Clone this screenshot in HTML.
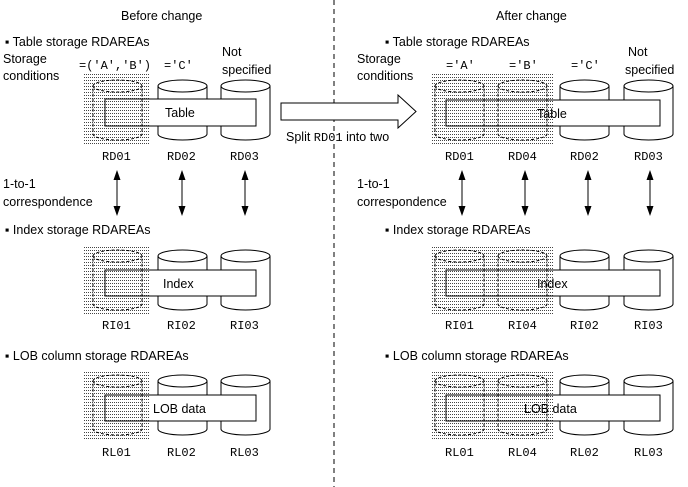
<!DOCTYPE html>
<html><head><meta charset="utf-8"><style>
body{margin:0;background:#fff}
svg{display:block}
text{font-family:"Liberation Sans",sans-serif;font-size:12.5px;fill:#000}
.m{font-family:"Liberation Mono",monospace;font-size:12px}
</style></head><body>
<svg width="688" height="487" viewBox="0 0 688 487" xmlns="http://www.w3.org/2000/svg">
<defs>
<pattern id="dots" width="2" height="3" patternUnits="userSpaceOnUse"><rect x="0" y="0" width="1" height="1" fill="#444" shape-rendering="crispEdges"/></pattern>
<g id="cyl"><path d="M0,6 A24.5,6 0 0 1 49,6 V54 A24.5,6 0 0 1 0,54 Z M0,6 A24.5,6 0 0 0 49,6" fill="#fff" stroke="#000"/></g>
<g id="dcyl"><path d="M0,6 A24.5,6 0 0 1 49,6 V54 A24.5,6 0 0 1 0,54 Z M0,6 A24.5,6 0 0 0 49,6" fill="none" stroke="#000" stroke-dasharray="3,2"/></g>
<g id="arr"><line x1="0" y1="4" x2="0" y2="42" stroke="#000"/><path d="M-3.5,10 L0,0 L3.5,10 Z M-3.5,36 L0,46 L3.5,36 Z" fill="#000"/></g>
</defs>
<line x1="334" y1="0" x2="334" y2="487" stroke="#000" stroke-dasharray="5,4"/>
<text x="121" y="20">Before change</text>
<text x="496" y="20">After change</text>

<text x="5" y="46">▪ Table storage RDAREAs</text>
<text x="3" y="63">Storage</text><text x="3" y="80">conditions</text>
<text class="m" x="79" y="69">=('A','B')</text>
<text class="m" x="164" y="69">='C'</text>
<text x="222" y="56">Not</text><text x="222" y="74">specified</text>
<g transform="translate(0,80)">
<use href="#cyl" x="158"/><use href="#cyl" x="221"/>
<rect x="105" y="19" width="151" height="27" fill="#fff"/>
<rect x="84" y="-8" width="66" height="73" fill="url(#dots)"/>
<use href="#dcyl" x="93"/>
<rect x="105" y="19" width="151" height="27" fill="none" stroke="#000"/>
<text x="165" y="37">Table</text>
</g>
<text class="m" x="102" y="160">RD01</text><text class="m" x="167" y="160">RD02</text><text class="m" x="230" y="160">RD03</text>

<path d="M281,103 H398 V95 L416,111.5 L398,128 V120 H281 Z" fill="#fff" stroke="#000"/>
<text x="286" y="141">Split <tspan class="m">RD01</tspan> into two</text>

<text x="3" y="188">1-to-1</text><text x="3" y="206">correspondence</text>
<use href="#arr" x="117" y="170"/><use href="#arr" x="182" y="170"/><use href="#arr" x="245" y="170"/>

<text x="5" y="234">▪ Index storage RDAREAs</text>
<g transform="translate(0,250)">
<use href="#cyl" x="158"/><use href="#cyl" x="221"/>
<rect x="105" y="20" width="151" height="26" fill="#fff"/>
<rect x="84" y="-4" width="66" height="70" fill="url(#dots)"/>
<use href="#dcyl" x="93"/>
<rect x="105" y="20" width="151" height="26" fill="none" stroke="#000"/>
<text x="163" y="38">Index</text>
</g>
<text class="m" x="102" y="329">RI01</text><text class="m" x="167" y="329">RI02</text><text class="m" x="230" y="329">RI03</text>

<text x="5" y="360">▪ LOB column storage RDAREAs</text>
<g transform="translate(0,375)">
<use href="#cyl" x="158"/><use href="#cyl" x="221"/>
<rect x="105" y="20" width="151" height="26" fill="#fff"/>
<rect x="84" y="-4" width="66" height="70" fill="url(#dots)"/>
<use href="#dcyl" x="93"/>
<rect x="105" y="20" width="151" height="26" fill="none" stroke="#000"/>
<text x="153" y="38">LOB data</text>
</g>
<text class="m" x="102" y="456">RL01</text><text class="m" x="167" y="456">RL02</text><text class="m" x="230" y="456">RL03</text>

<text x="385" y="46">▪ Table storage RDAREAs</text>
<text x="357" y="63">Storage</text><text x="357" y="80">conditions</text>
<text class="m" x="446" y="69">='A'</text>
<text class="m" x="509" y="69">='B'</text>
<text class="m" x="571" y="69">='C'</text>
<text x="628" y="56">Not</text><text x="625" y="74">specified</text>
<g transform="translate(0,80)">
<use href="#cyl" x="560"/><use href="#cyl" x="624"/>
<rect x="446" y="20" width="214" height="26" fill="#fff"/>
<rect x="432" y="-6" width="122" height="70" fill="url(#dots)"/>
<use href="#dcyl" x="435"/><use href="#dcyl" x="498"/>
<rect x="446" y="20" width="214" height="26" fill="none" stroke="#000"/>
<text x="537" y="38">Table</text>
</g>
<text class="m" x="445" y="160">RD01</text><text class="m" x="508" y="160">RD04</text><text class="m" x="570" y="160">RD02</text><text class="m" x="634" y="160">RD03</text>

<text x="357" y="188">1-to-1</text><text x="357" y="206">correspondence</text>
<use href="#arr" x="462" y="170"/><use href="#arr" x="525" y="170"/><use href="#arr" x="588" y="170"/><use href="#arr" x="650" y="170"/>

<text x="385" y="234">▪ Index storage RDAREAs</text>
<g transform="translate(0,250)">
<use href="#cyl" x="560"/><use href="#cyl" x="624"/>
<rect x="446" y="20" width="214" height="26" fill="#fff"/>
<rect x="432" y="-4" width="122" height="70" fill="url(#dots)"/>
<use href="#dcyl" x="435"/><use href="#dcyl" x="498"/>
<rect x="446" y="20" width="214" height="26" fill="none" stroke="#000"/>
<text x="537" y="38">Index</text>
</g>
<text class="m" x="445" y="329">RI01</text><text class="m" x="508" y="329">RI04</text><text class="m" x="570" y="329">RI02</text><text class="m" x="634" y="329">RI03</text>

<text x="385" y="360">▪ LOB column storage RDAREAs</text>
<g transform="translate(0,375)">
<use href="#cyl" x="560"/><use href="#cyl" x="624"/>
<rect x="446" y="20" width="214" height="26" fill="#fff"/>
<rect x="432" y="-4" width="122" height="70" fill="url(#dots)"/>
<use href="#dcyl" x="435"/><use href="#dcyl" x="498"/>
<rect x="446" y="20" width="214" height="26" fill="none" stroke="#000"/>
<text x="524" y="38">LOB data</text>
</g>
<text class="m" x="445" y="456">RL01</text><text class="m" x="508" y="456">RL04</text><text class="m" x="570" y="456">RL02</text><text class="m" x="634" y="456">RL03</text>
</svg>
</body></html>
